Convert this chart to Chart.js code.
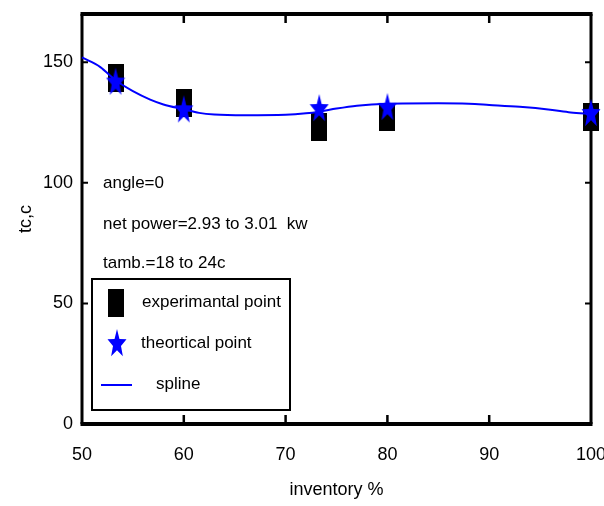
<!DOCTYPE html>
<html>
<head>
<meta charset="utf-8">
<script src="https://cdn.jsdelivr.net/npm/chart.js@4/dist/chart.umd.min.js"></script>
<style>
  html, body { margin: 0; padding: 0; background: #ffffff; }
  #chart { display: block; }
</style>
</head>
<body>
<canvas id="chart" width="604" height="506"></canvas>
<script>
// Measured points (inventory %, temperature)
const pointX = [53.3, 60, 73.3, 80, 100];
const experimental = [143.5, 133, 123, 127.5, 127.5];
const theoretical = [142, 130.5, 131, 131.5, 129];

// Spline curve through the data
const splineX = [50, 51.8, 53.3, 55, 56.7, 58, 60, 61.5, 63, 66, 70, 72, 73.3, 75, 77, 80, 85, 88, 90, 93, 96, 98, 100];
const splineY = [152, 148, 142.5, 138, 134.5, 132.5, 130.5, 129, 128.3, 128, 128.2, 128.8, 129.5, 130.8, 132, 132.8, 133, 132.8, 132.3, 131.5, 130.3, 129.2, 128.5];

// Axis ticks
const xTicks = [50, 60, 70, 80, 90, 100];
const yTicks = [0, 50, 100, 150];

const notes = ['angle=0', 'net power=2.93 to 3.01  kw', 'tamb.=18 to 24c'];

const FONT = '"Liberation Sans", Arial, sans-serif';
const FONT_SIZE = 17;
const BLUE = '#0000ff';

// Tall filled rectangle marker
function makeRectMarker(w, h) {
  const c = document.createElement('canvas');
  c.width = w; c.height = h;
  const g = c.getContext('2d');
  g.fillStyle = '#000000';
  g.fillRect(0, 0, w, h);
  return c;
}

// Vertically elongated five-point star marker
function makeStarMarker(w, h) {
  const c = document.createElement('canvas');
  c.width = w; c.height = h;
  const g = c.getContext('2d');
  const cx = w / 2, cy = h / 2 + 1;
  const rx = w / 2, ry = h / 2;
  const inner = 0.42;
  g.beginPath();
  for (let i = 0; i < 10; i++) {
    const r = (i % 2 === 0) ? 1 : inner;
    const a = -Math.PI / 2 + i * Math.PI / 5;
    const px = cx + Math.cos(a) * rx * r;
    const py = cy + Math.sin(a) * ry * r;
    if (i === 0) g.moveTo(px, py); else g.lineTo(px, py);
  }
  g.closePath();
  g.fillStyle = BLUE;
  g.fill();
  return c;
}

const rectMarker = makeRectMarker(16, 28);
const starMarker = makeStarMarker(20, 30);

const toXY = (xs, ys) => xs.map((x, i) => ({ x: x, y: ys[i] }));

// Frame, inward tick marks, notes and legend
const framePlugin = {
  id: 'frame',
  beforeDatasetsDraw(chart) {
    const { ctx, chartArea: a, scales } = chart;
    ctx.save();
    ctx.strokeStyle = '#000000';
    ctx.lineCap = 'butt';
    // horizontal edges
    ctx.lineWidth = 4;
    ctx.beginPath();
    ctx.moveTo(a.left - 1.5, a.top); ctx.lineTo(a.right + 1.5, a.top);
    ctx.moveTo(a.left - 1.5, a.bottom); ctx.lineTo(a.right + 1.5, a.bottom);
    ctx.stroke();
    // vertical edges
    ctx.lineWidth = 3;
    ctx.beginPath();
    ctx.moveTo(a.left, a.top); ctx.lineTo(a.left, a.bottom);
    ctx.moveTo(a.right, a.top); ctx.lineTo(a.right, a.bottom);
    ctx.stroke();
    // x ticks pointing inward
    ctx.lineWidth = 2.5;
    ctx.beginPath();
    xTicks.forEach(v => {
      if (v === scales.x.min || v === scales.x.max) return;
      const px = scales.x.getPixelForValue(v);
      ctx.moveTo(px, a.bottom); ctx.lineTo(px, a.bottom - 9);
      ctx.moveTo(px, a.top); ctx.lineTo(px, a.top + 9);
    });
    ctx.stroke();
    // y ticks pointing inward
    ctx.lineWidth = 2;
    ctx.beginPath();
    yTicks.forEach(v => {
      if (v === scales.y.min) return;
      const py = scales.y.getPixelForValue(v);
      ctx.moveTo(a.left, py); ctx.lineTo(a.left + 6, py);
      ctx.moveTo(a.right, py); ctx.lineTo(a.right - 6, py);
    });
    ctx.stroke();
    ctx.restore();
  },
  afterDraw(chart) {
    const { ctx } = chart;
    ctx.save();
    ctx.fillStyle = '#000000';
    ctx.font = FONT_SIZE + 'px ' + FONT;
    ctx.textBaseline = 'middle';
    ctx.textAlign = 'left';
    const noteY = [183, 224, 263];
    notes.forEach((t, i) => ctx.fillText(t, 103, noteY[i]));

    // legend box
    const box = { l: 92, t: 279, r: 290, b: 410 };
    ctx.fillStyle = '#ffffff';
    ctx.fillRect(box.l, box.t, box.r - box.l, box.b - box.t);
    ctx.strokeStyle = '#000000';
    ctx.lineWidth = 2;
    ctx.strokeRect(box.l, box.t, box.r - box.l, box.b - box.t);

    const ds = chart.data.datasets;
    const exp = ds.find(d => d.key === 'exp');
    const theo = ds.find(d => d.key === 'theo');
    const spl = ds.find(d => d.key === 'spline');

    ctx.drawImage(rectMarker, 116 - rectMarker.width / 2, 303 - rectMarker.height / 2);
    ctx.drawImage(starMarker, 117 - starMarker.width / 2, 343 - starMarker.height / 2);
    ctx.strokeStyle = BLUE;
    ctx.lineWidth = 2;
    ctx.beginPath();
    ctx.moveTo(101, 385); ctx.lineTo(132, 385);
    ctx.stroke();

    ctx.fillStyle = '#000000';
    ctx.fillText(exp.label, 142, 302);
    ctx.fillText(theo.label, 141, 343);
    ctx.fillText(spl.label, 156, 384);
    ctx.restore();
  }
};

new Chart(document.getElementById('chart'), {
  type: 'scatter',
  data: {
    datasets: [
      {
        key: 'theo',
        label: 'theortical point',
        data: toXY(pointX, theoretical),
        pointStyle: starMarker,
        pointRadius: 10,
        showLine: false,
        clip: false
      },
      {
        key: 'spline',
        label: 'spline',
        data: toXY(splineX, splineY),
        showLine: true,
        borderColor: BLUE,
        borderWidth: 2,
        pointRadius: 0,
        cubicInterpolationMode: 'monotone',
        clip: false
      },
      {
        key: 'exp',
        label: 'experimantal point',
        data: toXY(pointX, experimental),
        pointStyle: rectMarker,
        pointRadius: 10,
        showLine: false,
        clip: false
      }
    ]
  },
  options: {
    responsive: false,
    animation: false,
    devicePixelRatio: 1,
    layout: { padding: { top: 14, right: 13, bottom: 0, left: 0 } },
    plugins: {
      legend: { display: false },
      tooltip: { enabled: false }
    },
    scales: {
      x: {
        type: 'linear',
        min: 50,
        max: 100,
        grid: { display: false, drawTicks: false },
        border: { display: false },
        afterBuildTicks: s => { s.ticks = xTicks.map(v => ({ value: v })); },
        afterFit: s => { s.height = 82; s.paddingLeft = 0; s.paddingRight = 0; },
        ticks: {
          color: '#000000',
          padding: 20,
          maxRotation: 0,
          font: { family: FONT, size: FONT_SIZE + 1 }
        },
        title: {
          display: true,
          text: 'inventory %',
          color: '#000000',
          padding: { top: 0, bottom: 5 },
          font: { family: FONT, size: FONT_SIZE + 1 }
        }
      },
      y: {
        type: 'linear',
        min: 0,
        max: 170,
        grid: { display: false, drawTicks: false },
        border: { display: false },
        afterBuildTicks: s => { s.ticks = yTicks.map(v => ({ value: v })); },
        afterFit: s => { s.width = 82; s.paddingTop = 0; s.paddingBottom = 0; },
        ticks: {
          color: '#000000',
          padding: 9,
          font: { family: FONT, size: FONT_SIZE + 1 }
        },
        title: {
          display: true,
          text: 'tc,c',
          color: '#000000',
          padding: { top: 15, bottom: 0 },
          font: { family: FONT, size: FONT_SIZE + 1 }
        }
      }
    }
  },
  plugins: [framePlugin]
});
</script>
</body>
</html>
